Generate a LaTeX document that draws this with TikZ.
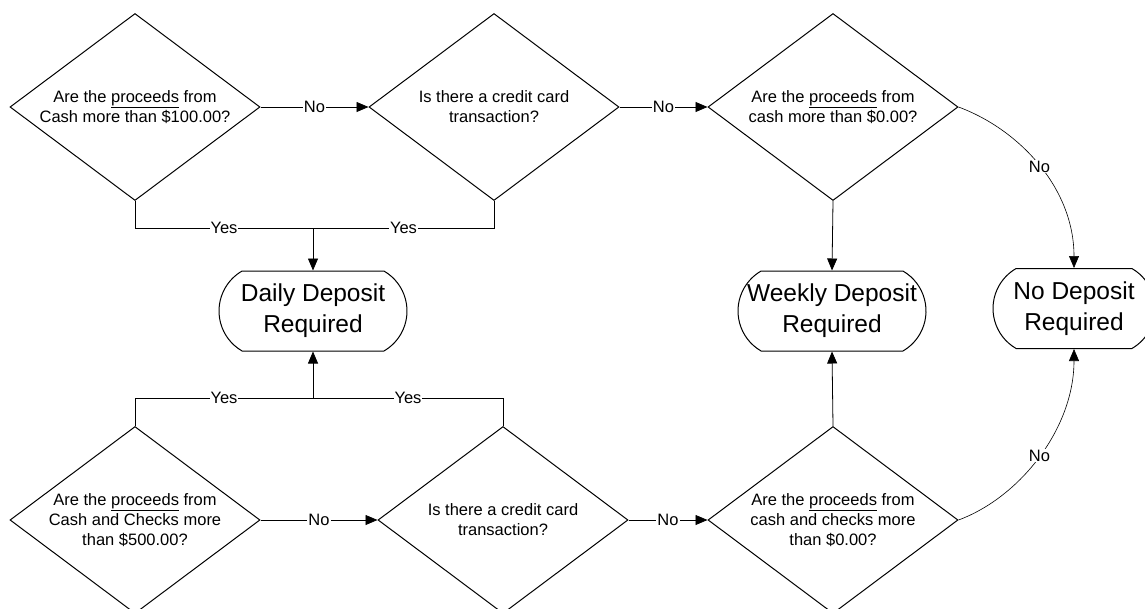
\documentclass[tikz,border=0pt]{standalone}
\usepackage{fontspec}
\setmainfont{Liberation Sans}
\usetikzlibrary{shapes.geometric,shapes.misc,arrows.meta}

\newcommand{\zl}[1]{\makebox[0pt]{#1}}

\begin{document}
\begin{tikzpicture}[
 x=1pt,y=-1pt,
 dec/.style={draw,diamond,line width=1pt,minimum width=250pt,minimum height=187pt,
  aspect=1.34,inner sep=0pt,align=center,font=\fontsize{16.5}{20}\selectfont},
 term/.style={draw,rounded rectangle,rounded rectangle arc length=120,line width=1pt,
  minimum width=188pt,minimum height=80pt,inner sep=0pt,align=center,
  font=\fontsize{24.5}{31}\selectfont},
 lbl/.style={fill=white,inner sep=1pt,font=\fontsize{16.5}{20}\selectfont},
 con/.style={line width=.8pt},
 arr/.style={con,-{Triangle[length=12pt,width=10pt]}},
 ]
 \useasboundingbox (0,0) rectangle (1145,608);

 \node[dec] (q1) at (135,107) {Are the \underline{proceeds} from\\Cash more than \$100.00?};
 \node[dec] (q2) at (494,107) {Is there a credit card\\transaction?};
 \node[dec] (q3) at (833,107) {Are the \underline{proceeds} from\\cash more than \$0.00?};

 \node[dec] (q4) at (135,520) {Are the \underline{proceeds} from\\Cash and Checks more\\than \$500.00?};
 \node[dec] (q5) at (503,520) {Is there a credit card\\transaction?};
 \node[dec] (q6) at (833,520) {Are the \underline{proceeds} from\\cash and checks more\\than \$0.00?};

 \node[term] (daily)  at (313,311)   {\zl{Daily Deposit}\\\zl{Required}};
 \node[term] (weekly) at (832,311)   {\zl{Weekly Deposit}\\\zl{Required}};
 \node[term,minimum width=162pt] (nodep) at (1074,308.5) {\zl{No Deposit}\\\zl{Required}};

 \coordinate (jt) at (313,228);
 \coordinate (jb) at (313,398);

 %Verbindungen
 \draw[arr] (q1.east) -- node[lbl]{No} (q2.west);
 \draw[arr] (q2.east) -- node[lbl]{No} (q3.west);
 \draw[arr] (q4.east) -- node[lbl]{No} (q5.west);
 \draw[arr] (q5.east) -- node[lbl]{No} (q6.west);

 \draw[con] (q1.south) |- node[lbl,pos=.75]{Yes} (jt);
 \draw[con] (q2.south) |- node[lbl,pos=.75]{Yes} (jt);
 \draw[arr] (jt) -- (daily.north);
 \draw[con] (q4.north) |- node[lbl,pos=.75]{Yes} (jb);
 \draw[con] (q5.north) |- node[lbl,pos=.75]{Yes} (jb);
 \draw[arr] (jb) -- (daily.south);

 \draw[arr] (q3.south) -- (weekly.north);
 \draw[arr] (q6.north) -- (weekly.south);

 \draw[arr,line width=.6pt] (q3.east) .. controls +(62,23) and +(0,-79) .. node[lbl]{No} (nodep.north);
 \draw[arr,line width=.6pt] (q6.east) .. controls +(62,-23) and +(0,79) .. node[lbl]{No} (nodep.south);
\end{tikzpicture}
\end{document}
